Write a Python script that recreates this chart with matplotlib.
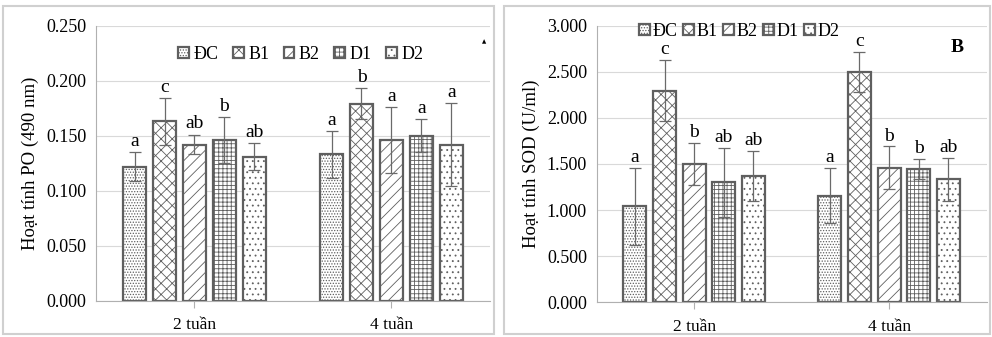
import matplotlib.pyplot as plt
import matplotlib.patches as mpatches
import numpy as np

plt.rcParams['font.family'] = ['Liberation Serif', 'DejaVu Serif']
plt.rcParams['hatch.linewidth'] = 0.6
plt.rcParams['hatch.color'] = '#555555'

# Data
groups = ['2 tuần', '4 tuần']
series = ['ĐC', 'B1', 'B2', 'D1', 'D2']

po_vals = [[0.122, 0.133], [0.163, 0.179], [0.142, 0.146], [0.146, 0.150], [0.131, 0.142]]
po_err = [[0.013, 0.021], [0.021, 0.014], [0.009, 0.030], [0.021, 0.015], [0.012, 0.038]]
po_letters = [['a', 'a'], ['c', 'b'], ['ab', 'a'], ['b', 'a'], ['ab', 'a']]

sod_vals = [[1.04, 1.156], [2.295, 2.495], [1.50, 1.46], [1.30, 1.446], [1.37, 1.334]]
sod_err = [[0.42, 0.30], [0.33, 0.22], [0.23, 0.23], [0.37, 0.11], [0.275, 0.234]]
sod_letters = [['a', 'a'], ['c', 'c'], ['b', 'b'], ['ab', 'b'], ['ab', 'ab']]

hatches = ['......', 'xxx', '///', '++++', '...']
edge = '#5f5f5f'

fig = plt.figure(figsize=(9.92, 3.37), dpi=100)

# panel frames
W, H = 992, 337
for x0, x1 in [(3, 494), (504, 990)]:
    fig.patches.append(mpatches.Rectangle((x0 / W, 1 - 334 / H), (x1 - x0) / W, 328 / H,
                                          transform=fig.transFigure, fill=False,
                                          edgecolor='#d0d0d0', linewidth=1.5))


def draw(ax, vals, errs, letters, ymax, step, ylabel, off):
    x = np.arange(len(groups))
    pitch = 0.152
    for i, s in enumerate(series):
        pos = x + (i - 2) * pitch
        ax.bar(pos, vals[i], width=0.118, color='white', edgecolor=edge,
               linewidth=1.6, hatch=hatches[i], label=s, zorder=2)
        ax.errorbar(pos, vals[i], yerr=errs[i], fmt='none', ecolor='#6a6a6a',
                    elinewidth=0.9, capsize=4, capthick=0.9, zorder=3)
        for j in range(len(groups)):
            ax.text(pos[j], vals[i][j] + errs[i][j] + off, letters[i][j],
                    ha='center', va='bottom', fontsize=14)
    ax.set_xlim(-0.5, 1.5)
    ax.set_ylim(0, ymax)
    ticks = np.arange(0, ymax + step / 2, step)
    ax.set_yticks(ticks)
    ax.set_yticklabels(['%.3f' % v for v in ticks])
    ax.set_xticks(x)
    ax.set_xticklabels(groups)
    ax.tick_params(axis='y', length=0, pad=7, labelsize=13)
    ax.tick_params(axis='x', length=5, color='#b0b0b0', pad=7, labelsize=12.5)
    ax.grid(axis='y', color='#d9d9d9', linewidth=0.8, zorder=0)
    ax.set_axisbelow(True)
    for sp in ['top', 'right']:
        ax.spines[sp].set_visible(False)
    for sp in ['left', 'bottom']:
        ax.spines[sp].set_color('#b0b0b0')
    ax.set_ylabel(ylabel, fontsize=13.5, labelpad=5)


ax1 = fig.add_axes([0.0968, 0.1077, 0.397, 0.816])
draw(ax1, po_vals, po_err, po_letters, 0.25, 0.05, 'Hoạt tính PO (490 nm)', 0.002)
ax1.legend(loc='upper center', bbox_to_anchor=(0.52, 0.985), ncol=5, frameon=False,
           fontsize=13, handlelength=0.6, handleheight=0.6, handletextpad=0.25,
           columnspacing=0.8)
ax1.text(0.985, 0.94, '▲', transform=ax1.transAxes, fontsize=4, ha='center',
         va='center', family=['DejaVu Sans'])

ax2 = fig.add_axes([0.6015, 0.103, 0.393, 0.821])
draw(ax2, sod_vals, sod_err, sod_letters, 3.0, 0.5, 'Hoạt tính SOD (U/ml)', 0.02)
ax2.legend(loc='upper left', bbox_to_anchor=(0.08, 1.05), ncol=5, frameon=False,
           fontsize=13, handlelength=0.6, handleheight=0.6, handletextpad=0.15,
           columnspacing=0.3, borderaxespad=0.2)
ax2.text(0.925, 0.92, 'B', transform=ax2.transAxes, fontsize=14, fontweight='bold',
         ha='center', va='center')

fig.savefig('out.png', dpi=100)
